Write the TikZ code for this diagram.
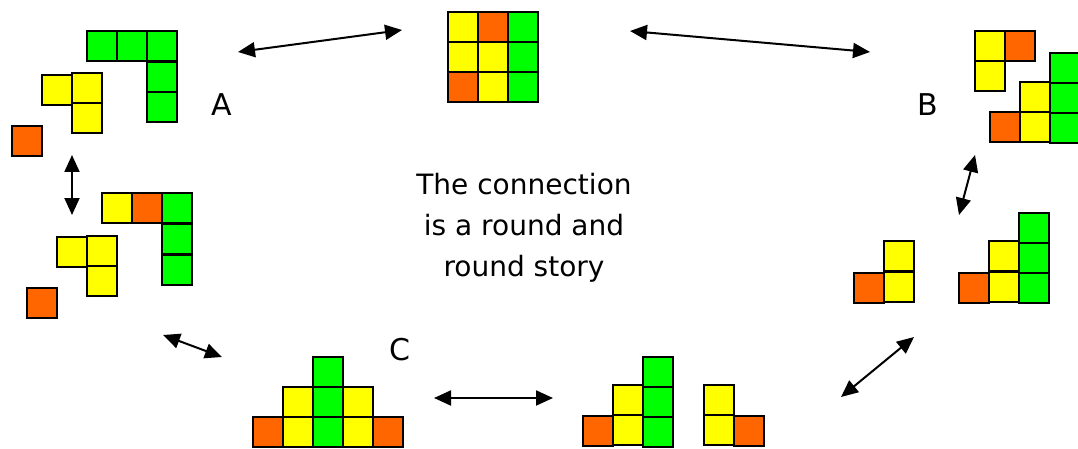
\documentclass[tikz,border=0pt]{standalone}
\usepackage{fontspec}
\setmainfont{DejaVu Sans}
\usetikzlibrary{arrows.meta}
\definecolor{cy}{HTML}{FFFF00}
\definecolor{co}{HTML}{FF6600}
\definecolor{cg}{HTML}{00FF00}
\tikzset{
  cellbox/.style={draw=black,line width=2.4pt},
  link/.style={line width=2pt,{Triangle[length=17pt,width=15pt]}-{Triangle[length=17pt,width=15pt]}},
  letter/.style={font=\fontsize{30}{32}\selectfont,inner sep=0pt},
  story/.style={font=\fontsize{28}{41}\selectfont,align=center,inner sep=0pt}
}
\newcommand{\sq}[3]{\draw[cellbox,fill=#3] (#1,#2) rectangle ++(30,30);}
\begin{document}
\begin{tikzpicture}[x=1pt,y=-1pt]
\useasboundingbox (0,0) rectangle (1078,449);
% group A (top left)
\sq{87}{31}{cg}\sq{117}{31}{cg}\sq{147}{31}{cg}\sq{147}{62}{cg}\sq{147}{92}{cg}
\sq{42}{75}{cy}\sq{72}{73}{cy}\sq{72}{103}{cy}
\sq{12}{126}{co}
% top centre square
\sq{448}{12}{cy}\sq{478}{12}{co}\sq{508}{12}{cg}
\sq{448}{42}{cy}\sq{478}{42}{cy}\sq{508}{42}{cg}
\sq{448}{72}{co}\sq{478}{72}{cy}\sq{508}{72}{cg}
% group B (top right)
\sq{975}{31}{cy}\sq{1005}{31}{co}\sq{975}{61}{cy}
\sq{1050}{53}{cg}\sq{1050}{83}{cg}\sq{1050}{113}{cg}
\sq{1020}{82}{cy}\sq{1020}{112}{cy}
\sq{990}{112}{co}
% left middle
\sq{102}{193}{cy}\sq{132}{193}{co}\sq{162}{193}{cg}\sq{162}{224}{cg}\sq{162}{255}{cg}
\sq{57}{237}{cy}\sq{87}{236}{cy}\sq{87}{266}{cy}
\sq{27}{288}{co}
% group C (bottom left)
\sq{313}{357}{cg}
\sq{283}{387}{cy}\sq{313}{387}{cg}\sq{343}{387}{cy}
\sq{253}{417}{co}\sq{283}{417}{cy}\sq{313}{417}{cg}\sq{343}{417}{cy}\sq{373}{417}{co}
% bottom centre
\sq{583}{416}{co}\sq{613}{385}{cy}\sq{613}{415}{cy}
\sq{643}{357}{cg}\sq{643}{387}{cg}\sq{643}{417}{cg}
\sq{704}{385}{cy}\sq{704}{415}{cy}\sq{734}{416}{co}
% right middle
\sq{854}{273}{co}\sq{884}{241}{cy}\sq{884}{272}{cy}
\sq{959}{273}{co}\sq{989}{241}{cy}\sq{989}{272}{cy}
\sq{1019}{213}{cg}\sq{1019}{243}{cg}\sq{1019}{273}{cg}
% labels
\node[letter] (la) at (222,105) {A};
\node[letter] (lb) at (928,105) {B};
\node[letter] (lc) at (400,350) {C};
\node[story] (txt) at (524,228) {The connection\\is a round and\\round story};
% arrow end points
\coordinate (a1s) at (238,52); \coordinate (a1e) at (402,30);
\coordinate (a2s) at (630,31); \coordinate (a2e) at (870,52);
\coordinate (a3s) at (72,155); \coordinate (a3e) at (72,215);
\coordinate (a4s) at (975,155); \coordinate (a4e) at (959,215);
\coordinate (a5s) at (163,335); \coordinate (a5e) at (222,357);
\coordinate (a6s) at (914,337); \coordinate (a6e) at (841,397);
\coordinate (a7s) at (434,398); \coordinate (a7e) at (553,398);
\draw[link] (a1s) -- (a1e);
\draw[link] (a2s) -- (a2e);
\draw[link] (a3s) -- (a3e);
\draw[link] (a4s) -- (a4e);
\draw[link] (a5s) -- (a5e);
\draw[link] (a6s) -- (a6e);
\draw[link] (a7s) -- (a7e);
\end{tikzpicture}
\end{document}
